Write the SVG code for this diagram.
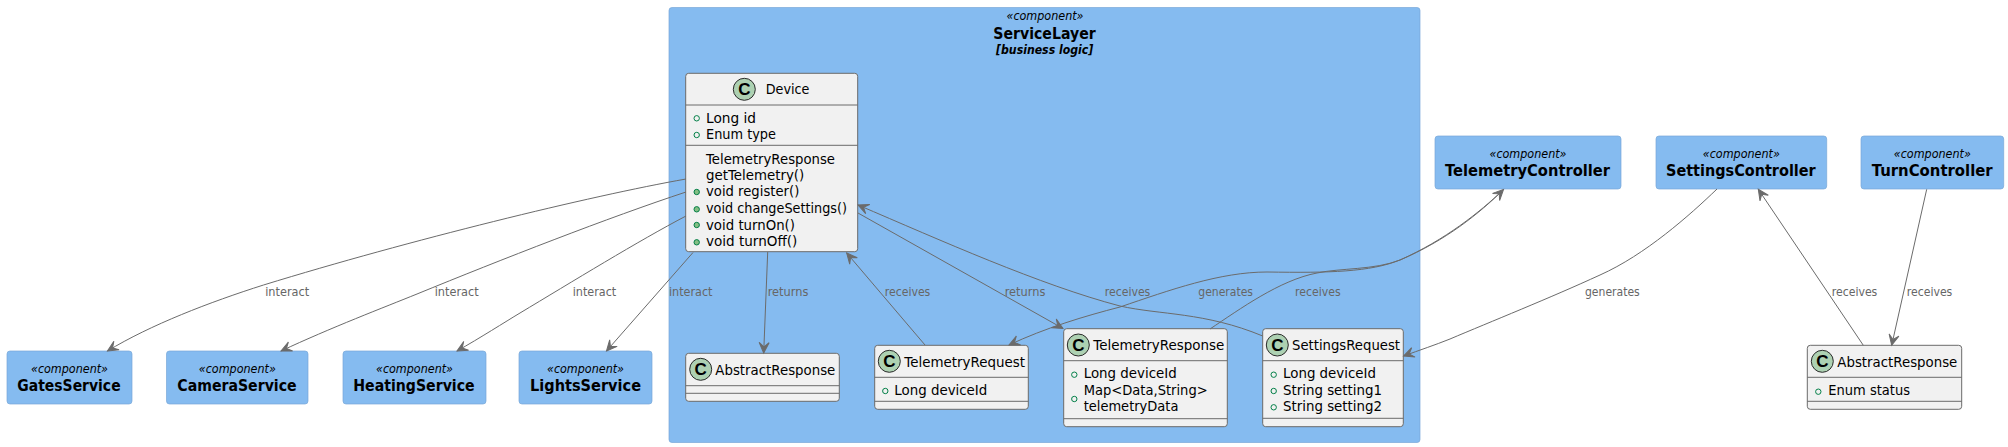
<svg xmlns="http://www.w3.org/2000/svg" width="2008" height="447" viewBox="0 0 2008 447">
<style>
text{font-family:"DejaVu Sans","Liberation Sans",sans-serif;fill:#000}
.comp{fill:#85BBF0;stroke:#78A8D8;stroke-width:.7}
.stereo{font-size:12.2px;font-style:italic;text-anchor:middle}
.name{font-size:16px;font-weight:700}
.cls{fill:#F1F1F1;stroke:#6B6B6B;stroke-width:1}
.sep{stroke:#6B6B6B;stroke-width:1}
.spot{fill:#ADD1B2;stroke:#2A2A2A;stroke-width:1}
.c{font-family:"Liberation Sans",sans-serif;font-size:17px;font-weight:700;text-anchor:middle}
.t{font-size:14.3px}
.a{fill:none;stroke:#038048;stroke-width:1}
.m{fill:#84BE84;stroke:#038048;stroke-width:1}
.e{fill:none;stroke:#6B6B6B;stroke-width:1;marker-end:url(#arrow)}
.l{font-size:12.8px;fill:#666}
</style>
<defs>
<marker id="arrow" markerUnits="userSpaceOnUse" markerWidth="14" markerHeight="14" viewBox="0 0 14 14" refX="12" refY="7" orient="auto">
<path d="M12,7 L1.5,2 L6,7 L1.5,12 Z" fill="#6B6B6B" stroke="#6B6B6B" stroke-width="1"/>
</marker>
</defs>

<g id="ServiceLayer">
<rect class="comp" x="669" y="7.5" width="751" height="435" rx="3"/>
<text class="stereo" x="1045" y="20" textLength="77" lengthAdjust="spacingAndGlyphs">«component»</text>
<text x="993.3" y="39.3" class="name" textLength="102.4" lengthAdjust="spacingAndGlyphs">ServiceLayer</text>
<text x="996" y="53.7" font-size="12.2" font-weight="700" font-style="italic" textLength="97.3" lengthAdjust="spacingAndGlyphs">[business logic]</text>
</g>

<g id="GatesService">
<rect class="comp" x="7" y="351" width="125" height="53" rx="3"/>
<text class="stereo" x="69.5" y="372.7" textLength="77" lengthAdjust="spacingAndGlyphs">«component»</text>
<text class="name" x="17.3" y="391" textLength="103.3" lengthAdjust="spacingAndGlyphs">GatesService</text>
</g>
<g id="CameraService">
<rect class="comp" x="166.5" y="351" width="141.5" height="53" rx="3"/>
<text class="stereo" x="237.3" y="372.7" textLength="77" lengthAdjust="spacingAndGlyphs">«component»</text>
<text class="name" x="177.3" y="391" textLength="119.3" lengthAdjust="spacingAndGlyphs">CameraService</text>
</g>
<g id="HeatingService">
<rect class="comp" x="343" y="351" width="143" height="53" rx="3"/>
<text class="stereo" x="414.5" y="372.7" textLength="77" lengthAdjust="spacingAndGlyphs">«component»</text>
<text class="name" x="353.3" y="391" textLength="121.3" lengthAdjust="spacingAndGlyphs">HeatingService</text>
</g>
<g id="LightsService">
<rect class="comp" x="519" y="351" width="133" height="53" rx="3"/>
<text class="stereo" x="585.5" y="372.7" textLength="77" lengthAdjust="spacingAndGlyphs">«component»</text>
<text class="name" x="530" y="391" textLength="111" lengthAdjust="spacingAndGlyphs">LightsService</text>
</g>

<g id="TelemetryController">
<rect class="comp" x="1435" y="136" width="186" height="53" rx="3"/>
<text class="stereo" x="1528" y="158.3" textLength="77" lengthAdjust="spacingAndGlyphs">«component»</text>
<text class="name" x="1445" y="176" textLength="165" lengthAdjust="spacingAndGlyphs">TelemetryController</text>
</g>
<g id="SettingsController">
<rect class="comp" x="1656" y="136" width="170.7" height="53" rx="3"/>
<text class="stereo" x="1741.3" y="158.3" textLength="77" lengthAdjust="spacingAndGlyphs">«component»</text>
<text class="name" x="1666" y="176" textLength="149.7" lengthAdjust="spacingAndGlyphs">SettingsController</text>
</g>
<g id="TurnController">
<rect class="comp" x="1861" y="136" width="142.7" height="53" rx="3"/>
<text class="stereo" x="1932.3" y="158.3" textLength="77" lengthAdjust="spacingAndGlyphs">«component»</text>
<text class="name" x="1871.7" y="176" textLength="121" lengthAdjust="spacingAndGlyphs">TurnController</text>
</g>

<g id="Device">
<rect class="cls" x="685.7" y="73.3" width="172" height="178.4" rx="3"/>
<line class="sep" x1="685.7" y1="105" x2="857.7" y2="105"/>
<line class="sep" x1="685.7" y1="145.3" x2="857.7" y2="145.3"/>
<circle class="spot" cx="744.3" cy="89.3" r="11"/>
<text class="c" x="744.3" y="95.3">C</text>
<text class="t" x="765.7" y="94.3" textLength="43.7" lengthAdjust="spacingAndGlyphs">Device</text>
<circle class="a" cx="696.7" cy="118.3" r="2.7"/>
<text class="t" x="706" y="123" textLength="50" lengthAdjust="spacingAndGlyphs">Long id</text>
<circle class="a" cx="696.7" cy="135" r="2.7"/>
<text class="t" x="706" y="139" textLength="70" lengthAdjust="spacingAndGlyphs">Enum type</text>
<text class="t" x="706" y="164" textLength="129" lengthAdjust="spacingAndGlyphs">TelemetryResponse</text>
<text class="t" x="706" y="180" textLength="98.3" lengthAdjust="spacingAndGlyphs">getTelemetry()</text>
<circle class="m" cx="696.7" cy="192" r="2.7"/>
<text class="t" x="706" y="196" textLength="93.3" lengthAdjust="spacingAndGlyphs">void register()</text>
<circle class="m" cx="696.7" cy="209.3" r="2.7"/>
<text class="t" x="706" y="213" textLength="141" lengthAdjust="spacingAndGlyphs">void changeSettings()</text>
<circle class="m" cx="696.7" cy="225" r="2.7"/>
<text class="t" x="706" y="229.5" textLength="89" lengthAdjust="spacingAndGlyphs">void turnOn()</text>
<circle class="m" cx="696.7" cy="242.3" r="2.7"/>
<text class="t" x="706" y="245.7" textLength="91.3" lengthAdjust="spacingAndGlyphs">void turnOff()</text>
</g>

<g id="AbstractResponseInner">
<rect class="cls" x="685.7" y="353.3" width="153.6" height="48" rx="3"/>
<line class="sep" x1="685.7" y1="385.7" x2="839.3" y2="385.7"/>
<line class="sep" x1="685.7" y1="393.3" x2="839.3" y2="393.3"/>
<circle class="spot" cx="700.7" cy="369.3" r="11"/>
<text class="c" x="700.7" y="375.3">C</text>
<text class="t" x="715.3" y="374.7" textLength="120" lengthAdjust="spacingAndGlyphs">AbstractResponse</text>
</g>

<g id="TelemetryRequest">
<rect class="cls" x="874.7" y="345.3" width="153.6" height="64" rx="3"/>
<line class="sep" x1="874.7" y1="377.3" x2="1028.3" y2="377.3"/>
<line class="sep" x1="874.7" y1="401.3" x2="1028.3" y2="401.3"/>
<circle class="spot" cx="889.3" cy="361.3" r="11"/>
<text class="c" x="889.3" y="367.3">C</text>
<text class="t" x="904.3" y="366.7" textLength="120.7" lengthAdjust="spacingAndGlyphs">TelemetryRequest</text>
<circle class="a" cx="885.3" cy="391" r="2.7"/>
<text class="t" x="894.3" y="395" textLength="93" lengthAdjust="spacingAndGlyphs">Long deviceId</text>
</g>

<g id="TelemetryResponse">
<rect class="cls" x="1063.7" y="328.7" width="163.6" height="98" rx="3"/>
<line class="sep" x1="1063.7" y1="360.7" x2="1227.3" y2="360.7"/>
<line class="sep" x1="1063.7" y1="418.7" x2="1227.3" y2="418.7"/>
<circle class="spot" cx="1078.3" cy="345" r="11"/>
<text class="c" x="1078.3" y="351">C</text>
<text class="t" x="1093.3" y="350" textLength="131" lengthAdjust="spacingAndGlyphs">TelemetryResponse</text>
<circle class="a" cx="1074.3" cy="374.7" r="2.7"/>
<text class="t" x="1083.7" y="378.3" textLength="93" lengthAdjust="spacingAndGlyphs">Long deviceId</text>
<circle class="a" cx="1074.3" cy="399" r="2.7"/>
<text class="t" x="1083.7" y="395" textLength="124" lengthAdjust="spacingAndGlyphs">Map&lt;Data,String&gt;</text>
<text class="t" x="1083.7" y="410.7" textLength="94.7" lengthAdjust="spacingAndGlyphs">telemetryData</text>
</g>

<g id="SettingsRequest">
<rect class="cls" x="1262.7" y="328.7" width="140.6" height="98" rx="3"/>
<line class="sep" x1="1262.7" y1="360.7" x2="1403.3" y2="360.7"/>
<line class="sep" x1="1262.7" y1="418.3" x2="1403.3" y2="418.3"/>
<circle class="spot" cx="1277.3" cy="345" r="11"/>
<text class="c" x="1277.3" y="351">C</text>
<text class="t" x="1292" y="350" textLength="108" lengthAdjust="spacingAndGlyphs">SettingsRequest</text>
<circle class="a" cx="1273.7" cy="374.7" r="2.7"/>
<text class="t" x="1283" y="378.3" textLength="93" lengthAdjust="spacingAndGlyphs">Long deviceId</text>
<circle class="a" cx="1273.7" cy="391" r="2.7"/>
<text class="t" x="1283" y="395" textLength="99" lengthAdjust="spacingAndGlyphs">String setting1</text>
<circle class="a" cx="1273.7" cy="407.3" r="2.7"/>
<text class="t" x="1283" y="410.7" textLength="99" lengthAdjust="spacingAndGlyphs">String setting2</text>
</g>

<g id="AbstractResponse">
<rect class="cls" x="1807.3" y="345.3" width="154.4" height="64" rx="3"/>
<line class="sep" x1="1807.3" y1="377.3" x2="1961.7" y2="377.3"/>
<line class="sep" x1="1807.3" y1="401.3" x2="1961.7" y2="401.3"/>
<circle class="spot" cx="1822.3" cy="361.3" r="11"/>
<text class="c" x="1822.3" y="367.3">C</text>
<text class="t" x="1837.3" y="366.7" textLength="120" lengthAdjust="spacingAndGlyphs">AbstractResponse</text>
<circle class="a" cx="1818.3" cy="391.7" r="2.7"/>
<text class="t" x="1828.3" y="395" textLength="81.7" lengthAdjust="spacingAndGlyphs">Enum status</text>
</g>

<g id="connectors">
<path class="e" d="M686,179 C590,196 410,240 263.5,285 C210,302 150,325 107.5,351"/>
<path class="e" d="M686,192 C610,217 500,260 417,294 C385,307 330,328 281,351"/>
<path class="e" d="M686,216 C640,240 570,283 520,313 C505,322 480,338 457,351"/>
<path class="e" d="M693,252.5 L606.5,351"/>
<path class="e" d="M767.7,252 L763.7,353"/>
<path class="e" d="M925,345 L846.7,253"/>
<path class="e" d="M858,213 L1063,328.5"/>
<path class="e" d="M1262.7,336 C1205,312 1160,315 1120,306 C1040,285 940,240 858,205"/>
<path class="e" d="M1503,190 C1480,212 1445,240 1400,260 C1370,272 1330,273 1267,272 C1220,272 1170,290 1120,307 C1085,316 1045,328 1009,345"/>
<path class="e" d="M1210,329 C1240,309 1280,280 1317,273 C1340,268 1375,270 1400,260 C1445,241 1480,213 1503.5,189.5"/>
<path class="e" d="M1717,189 C1690,215 1645,255 1600,275 C1550,298 1490,322 1450,339 C1435,345 1420,350 1403.5,356"/>
<path class="e" d="M1863.3,345.3 L1758.3,189.3"/>
<path class="e" d="M1926.7,189.3 L1891.7,345.3"/>
<text class="l" x="265.2" y="295.7" textLength="44" lengthAdjust="spacingAndGlyphs">interact</text>
<text class="l" x="434.7" y="295.7" textLength="44" lengthAdjust="spacingAndGlyphs">interact</text>
<text class="l" x="572.7" y="295.7" textLength="43.5" lengthAdjust="spacingAndGlyphs">interact</text>
<text class="l" x="669" y="295.7" textLength="43.5" lengthAdjust="spacingAndGlyphs">interact</text>
<text class="l" x="767.7" y="295.7" textLength="40.7" lengthAdjust="spacingAndGlyphs">returns</text>
<text class="l" x="884.7" y="295.7" textLength="45.6" lengthAdjust="spacingAndGlyphs">receives</text>
<text class="l" x="1004.7" y="295.7" textLength="40.7" lengthAdjust="spacingAndGlyphs">returns</text>
<text class="l" x="1104.7" y="295.7" textLength="45.6" lengthAdjust="spacingAndGlyphs">receives</text>
<text class="l" x="1198.3" y="295.7" textLength="54.7" lengthAdjust="spacingAndGlyphs">generates</text>
<text class="l" x="1295" y="295.7" textLength="45.6" lengthAdjust="spacingAndGlyphs">receives</text>
<text class="l" x="1585" y="295.7" textLength="54.7" lengthAdjust="spacingAndGlyphs">generates</text>
<text class="l" x="1831.7" y="295.7" textLength="45.6" lengthAdjust="spacingAndGlyphs">receives</text>
<text class="l" x="1906.7" y="295.7" textLength="45.6" lengthAdjust="spacingAndGlyphs">receives</text>
</g>
</svg>
